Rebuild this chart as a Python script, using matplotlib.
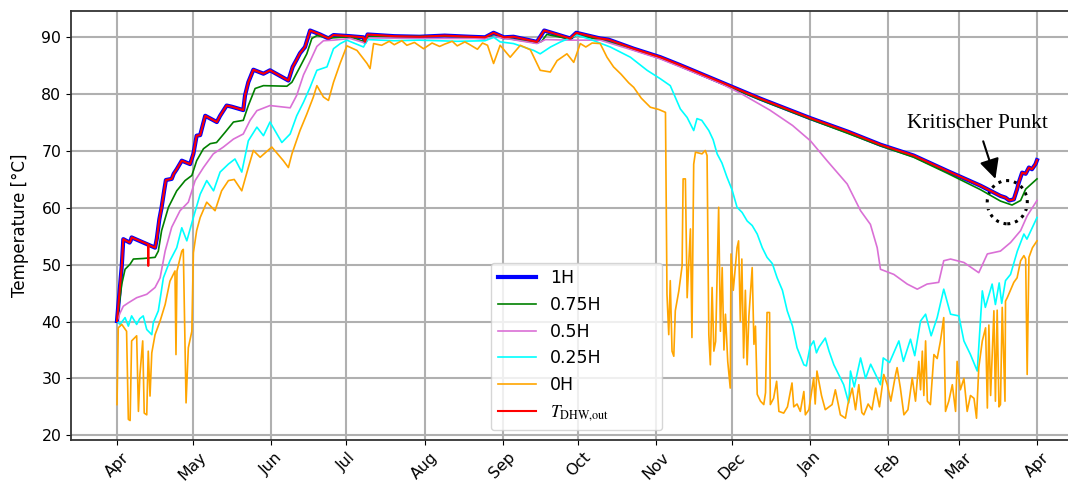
import pandas as pd
import matplotlib
matplotlib.use("Agg")
from matplotlib import pyplot as plt
from matplotlib import dates as mdates
from matplotlib.patches import Ellipse

START = pd.Timestamp("2021-04-01")

# days after START and temperatures in °C
days_1h = [0, 0.5, 1.9, 2.5, 5.0, 5.4, 5.8, 15.1, 15.8, 16.8, 17.7, 18.7, 19.4, 21.7, 22.5,
           23.7, 25.7, 29.0, 30.3, 31.6, 33.0, 35.0, 39.6, 40.9, 43.5, 45.5, 50.1, 50.8, 52.1,
           54.1, 58.1, 60.7, 68.0, 69.7, 71.3, 72.6, 74.6, 76.6, 80.6, 83.9, 85.9, 92.5, 97.8,
           98.4, 99.4, 110, 120, 130, 140, 146, 149.4, 153.5, 157.3, 166.6, 169.5, 179.8,
           182.2, 191.7, 195, 205, 215.6, 223.5, 255.3, 275, 290, 303, 316.1, 329.4, 342.6,
           350.5, 352.5, 354, 355.8, 357.1, 357.8, 359.1, 360.5, 361.8, 363, 364.4, 365]
temp_1h = [40.1, 42.7, 49.8, 54.5, 53.9, 54.2, 54.8, 53.0, 54.6, 58.0, 60.1, 63.0, 64.9, 65.1, 66.0,
           66.8, 68.3, 67.7, 69.5, 72.7, 72.8, 76.2, 75.1, 76.2, 78.0, 77.8, 77.2, 79.8, 82.1,
           84.3, 83.6, 84.2, 82.4, 84.8, 86.1, 87.2, 88.3, 91.2, 90.5, 89.8, 90.4, 90.2, 90.0,
           89.2, 90.5, 90.2, 90.1, 90.3, 90.1, 90.0, 90.8, 90.0, 90.1, 89.2, 91.2, 89.8,
           90.8, 89.8, 89.6, 88.0, 86.5, 85.1, 79.2, 75.8, 73.4, 71.1, 69.2, 66.5, 63.9,
           62.1, 61.8, 61.3, 61.5, 63.3, 64.5, 66.2, 66.0, 67.1, 66.8, 67.7, 68.4]

# outlet temperature follows 1H, except for a short drop in mid April
spike_days = [12.3, 12.4, 12.5]
spike_temp = [53.6, 49.8, 53.5]

days_075 = [0, 1.0, 1.9, 3.2, 5.2, 6.5, 10.5, 15.1, 16.4, 17.7, 20.4, 23.7, 27.0, 29.7, 31.6,
            34.3, 37.0, 39.5, 42.9, 46.2, 50.1, 52.1, 54.8, 58.1, 67.4, 69.4, 72.6, 75.3, 77.3,
            79.3, 85, 92.5, 98.4, 99.6, 110, 130, 146, 149.4, 153.5, 166.6, 168.5, 170.5,
            179.8, 182.2, 191.7, 205, 215.6, 223.5, 255.3, 275, 290, 303, 316.1, 329.4, 342.6,
            350.5, 355.1, 358.5, 360.5, 363, 365]
temp_075 = [40.1, 43.5, 46.6, 49.2, 50.1, 51.0, 51.1, 51.3, 52.4, 56.0, 60.1, 63.0, 64.8, 65.7, 68.3,
            70.4, 71.3, 71.5, 73.3, 75.1, 75.4, 78.0, 81.0, 81.5, 81.4, 82.1, 84.8, 87.1, 89.8,
            90.3, 89.9, 90.1, 89.2, 90.1, 90.1, 90.2, 89.9, 90.2, 89.9, 89.0, 89.3, 90.5,
            89.7, 90.4, 89.6, 87.9, 86.4, 84.9, 79.0, 75.6, 73.1, 70.9, 68.9, 66.1, 63.2,
            61.2, 60.5, 61.3, 63.3, 64.3, 65.1]

days_05 = [0, 1.2, 2.5, 4.5, 7.8, 11.8, 15.1, 17.1, 19.1, 21.7, 25, 28.3, 31, 34.3, 38.2, 42.2,
           46.2, 50.1, 52.8, 55.5, 60.7, 64.7, 68.7, 71.3, 74, 76.6, 79.3, 81.9, 85.9, 92.5,
           98.4, 100, 120, 146, 150, 166.6, 170, 180, 191.7, 205, 215.6, 223.5, 240, 248, 259,
           268, 275.1, 281.7, 289.7, 295, 298.9, 301.6, 302.9, 308.2, 313.5, 317.5, 321.4, 326,
           328, 330.7, 336, 341.9, 345.3, 350.5, 354.5, 358.5, 361.1, 365]
temp_05 = [40.1, 41.5, 42.7, 43.3, 44.2, 44.8, 46.0, 47.7, 52.4, 56.6, 59.5, 61.0, 64.8, 67.1, 69.5, 70.7,
           72.1, 73.0, 75.4, 77.1, 78.0, 77.8, 77.6, 79.8, 83.4, 85.8, 88.4, 89.4, 89.5, 89.8,
           89.0, 89.9, 89.8, 89.8, 90.1, 88.9, 89.6, 89.5, 89.5, 87.7, 86.2, 84.8, 81.8, 80.0, 77.2,
           74.5, 71.8, 68.3, 64.2, 59.5, 57.1, 53.0, 49.2, 48.3, 46.6, 45.7, 46.6, 46.9,
           50.7, 51.0, 50.4, 48.6, 51.9, 52.4, 53.9, 56.0, 58.6, 61.3]

days_025 = [0, 1.2, 3.2, 4.5, 5.8, 7.8, 9.0, 10.4, 11.8, 13.8, 14.4, 16.4, 18.4, 21.0, 23.7, 25.7,
            27.7, 30.3, 33.0, 35.6, 38.3, 40.9, 44.2, 46.8, 49.5, 52.1, 55.5, 58.1, 60.7, 65.4,
            68.7, 71.3, 74.0, 76.6, 79.3, 83.3, 85.9, 88.6, 91.2, 95, 97.8, 99.4, 110, 120, 135,
            146, 149.5, 152, 157.3, 165.3, 167.9, 172, 176, 182.5, 188, 195.7, 203.7, 210.3,
            215.6, 219.5, 223.5, 226.2, 228.8, 230.1, 232, 234.8, 236.5, 238.1, 240, 242, 244,
            246, 248, 250, 252, 254, 256, 257.9, 260, 261.9, 264, 265.9, 268, 269.8, 272.5,
            273.5, 275, 276.4, 277.5, 278.5, 281, 282.5, 284.4, 286.5, 288.3, 290.3,
            291, 292.5, 295, 297, 299, 302.9, 304, 306.5, 310.2, 312, 314.8, 316.5, 318.8,
            320.8, 323, 325.4, 328, 330.7, 334, 336, 338.6, 341.3, 343.3, 344.5, 347.2, 348.5,
            350, 351, 352.5, 354.5, 357.2, 359.8, 361, 363.2, 365]
temp_025 = [40.1, 39.5, 40.7, 39.2, 41.0, 39.5, 40.5, 41.0, 38.6, 37.7, 39.8, 41.9, 47.7, 50.7, 53.0, 56.5,
            54.2, 58.3, 62.4, 64.8, 63.0, 66.3, 67.7, 68.6, 66.3, 71.8, 74.2, 72.7, 75.1, 71.5,
            73.0, 76.2, 78.6, 81.2, 84.2, 84.8, 88.0, 88.9, 89.5, 88.8, 88.3, 89.6, 89.4, 89.5, 89.3,
            89.4, 90.0, 89.2, 88.9, 87.7, 87.1, 88.3, 89.2, 90.4, 89.6, 88.3, 86.5, 84.2,
            82.7, 81.5, 77.4, 75.9, 73.6, 75.7, 75.4, 73.6, 72.0, 69.5, 67.9, 65.4, 63.2,
            60.1, 59.2, 57.7, 56.9, 55.4, 53.0, 51.3, 50.2, 47.7, 45.5, 41.9, 39.2, 35.4, 32.4,
            32.2, 35.6, 36.6, 34.5, 35.5, 37.1, 34.8, 32.4, 30.5, 28.9, 25.7,
            31.3, 28.5, 33.6, 30.0, 32.5, 28.9, 33.6, 32.8, 36.6, 33.0, 36.9, 34.0, 40.1,
            41.3, 37.5, 40.7, 45.7, 41.3, 41.0, 36.6, 34.2, 31.3, 45.4, 42.5, 46.6, 43.0,
            46.8, 43.2, 47.2, 48.3, 52.4, 55.4, 54.5, 56.6, 58.3]

days_0 = [0, 0.5, 1.9, 3.8, 4.5, 5.2, 5.8, 7.8, 8.5, 9.1, 10.2, 10.8, 11.8, 12.4, 13.1, 13.8,
          15.1, 17.1, 19.1, 21.0, 23.0, 23.4, 23.8, 25.7, 26.3, 27.4, 28.3, 29.7, 30.3, 31.6,
          33.0, 35.6, 38.9, 41.5, 44.2, 46.5, 49.5, 52.1, 54.1, 56.8, 61.4, 66.0, 68.0, 69.4,
          72.6, 75.3, 77.9, 79.3, 81.9, 83.9, 85.9, 88.5, 91.2, 95.2, 99.2, 100.4, 101.8, 105,
          108, 110, 113, 115, 118, 121.6, 125, 128, 130, 133, 135, 138, 140, 143, 145, 147,
          149.4, 152, 156, 160, 164, 167.9, 171.9, 174.6, 178.5, 181.2, 183.8, 186, 188.5,
          191.7, 194.4, 197, 200, 203, 205, 208, 211.6, 215, 217.6,
          218.2, 218.9, 219.5, 220.2, 220.9, 221.5, 222.9, 224.2, 224.6, 225.5, 226.2, 227.5,
          228.1, 228.8, 229.5, 232.1, 233.4, 234.1, 234.8, 235.4, 236.1, 236.8, 237.5, 238.7,
          239.4, 240.1, 240.8, 241.4, 242.3, 243.3, 243.6, 244.5, 246.0, 246.6, 247.3, 247.9,
          248.6, 249.3, 250.0, 250.7, 252.0, 252.7, 253.3, 254.0, 255.3, 256.6, 257.3, 257.9,
          258.9, 259.2, 260.5, 261.7, 262.6, 264.5, 266.0, 267.8, 268.5, 269.8, 271.1, 272.5,
          273.1, 274.5, 275.8, 276.4, 277.0, 277.7, 279.5, 281, 283.7, 285, 287, 289, 290,
          291.7, 293, 294.3, 295.5, 296.3, 298, 299.5, 301, 302.5, 304.2, 305.6, 307, 308.9,
          309.5, 310.8, 312.2, 313.8, 315.5, 316.8, 318.1, 318.8, 319.5, 320.1, 320.8, 321.5,
          322.7, 324.1, 325.4, 326.7, 328, 328.7, 330, 331.4, 332.7, 333.3, 334.6, 336, 337.3,
          338.6, 340, 341, 341.9, 343.3, 344.6, 345.3, 345.9, 346.6, 347.9, 348.5, 349.2,
          349.9, 350.5, 351.2, 352.3, 352.5, 353.2, 355.8, 357.1, 358.5, 359.8, 360.5, 361.1,
          361.8, 363.2, 365]
temp_0 = [25.4, 38.9, 39.5, 38.3, 22.8, 22.6, 36.6, 37.5, 24.2, 30.7, 36.6, 23.9, 23.6, 34.8, 26.9, 34.5,
          37.7, 40.1, 43.0, 47.1, 48.9, 34.2, 48.9, 52.4, 52.7, 25.7, 35.4, 38.3, 52.1, 56.0,
          58.3, 61.0, 59.5, 63.0, 64.8, 65.0, 63.0, 67.1, 70.1, 68.9, 70.7, 68.3, 67.1, 69.5,
          73.6, 76.5, 79.5, 81.5, 79.5, 78.9, 82.1, 85.4, 88.5, 87.7, 85.4, 84.5, 88.9, 88.6,
          89.3, 88.7, 89.4, 88.6, 89.1, 88.0, 89.0, 88.4, 88.8, 89.3, 88.5, 89.2, 88.7, 87.9, 89.0, 88.6,
          85.4, 88.6, 86.5, 88.6, 87.8, 84.2, 83.9, 85.9, 87.1, 85.6, 88.9, 88.3, 89.0,
          88.9, 86.5, 84.8, 83.5, 82.0, 81.2, 79.3, 77.7, 77.3, 76.8,
          44.8, 37.7, 47.2, 34.8, 33.9, 41.9, 45.4, 49.8, 65.1, 65.1, 44.2, 56.3,
          37.2, 67.7, 69.8, 69.5, 70.1, 69.2, 37.7, 32.4, 46.0, 34.8, 36.5, 60.1,
          38.3, 49.5, 35.0, 41.3, 33.0, 28.3, 51.9, 45.5, 53.0, 54.2, 40.0, 51.0,
          33.6, 45.5, 32.4, 41.0, 49.5, 36.0, 39.2, 27.2, 26.0, 25.4, 27.5, 41.6,
          41.6, 25.4, 26.5, 29.5, 24.2, 23.9, 25.0, 29.2, 25.0, 25.5, 24.2, 27.7,
          23.6, 24.5, 28.3, 30.1, 25.5, 31.3, 27.0, 24.5, 25.4, 28.0, 23.6, 23.0, 25.5,
          28.3, 24.5, 28.9, 24.0, 23.6, 25.5, 24.5, 28.3, 25.0, 30.7, 28.9, 26.0, 30.7,
          31.9, 28.3, 23.6, 24.5, 30.1, 26.0, 33.0, 28.0, 34.8, 27.0, 36.6, 26.0,
          25.4, 34.2, 33.5, 36.6, 40.7, 24.2, 26.0, 28.9, 24.2, 33.0, 28.0, 30.0, 24.2,
          27.0, 26.5, 23.0, 31.9, 36.6, 38.9, 24.8, 39.4, 27.0, 41.9, 26.0, 42.0,
          25.0, 25.4, 42.5, 26.0, 43.6, 44.2, 46.9, 47.7, 50.7, 51.6, 51.0, 30.7,
          51.3, 53.0, 54.2]

# the "Kritischer Punkt" marker, in days / °C
crit_day = 353.2
crit_temp = 61.0
crit_label_day = 341.4
crit_label_temp = 74.8
crit_arrow_day = 348.5
crit_arrow_temp = 65.1


def to_dates(days):
    return START + pd.to_timedelta(days, unit="D")


def merge_spike(days, temps, sdays, stemps):
    pairs = sorted(list(zip(days, temps)) + list(zip(sdays, stemps)))
    return [p[0] for p in pairs], [p[1] for p in pairs]


def main():
    plt.rcParams["font.family"] = "DejaVu Sans"
    plt.rcParams["mathtext.fontset"] = "stix"

    fig = plt.figure(figsize=(10.68, 4.90), dpi=100)
    ax = fig.add_axes([71 / 1068, 50 / 490, 1012 / 1068, 429 / 490])

    days_out, temp_out = merge_spike(days_1h, temp_1h, spike_days, spike_temp)

    ax.plot(to_dates(days_1h), temp_1h, color="blue", lw=3, label="1H")
    ax.plot(to_dates(days_075), temp_075, color="green", lw=1.2, label="0.75H")
    ax.plot(to_dates(days_05), temp_05, color="orchid", lw=1.2, label="0.5H")
    ax.plot(to_dates(days_025), temp_025, color="cyan", lw=1.2, label="0.25H")
    ax.plot(to_dates(days_0), temp_0, color="orange", lw=1.2, label="0H")
    ax.plot(to_dates(days_out), temp_out, color="red", lw=1.5,
            label=r"$T_{\mathrm{DHW{,}out}}$")

    # dotted circle round the critical point
    centre = mdates.date2num(to_dates([crit_day])[0])
    ax.add_patch(Ellipse((centre, crit_temp), width=15.9, height=7.6, fill=False,
                         linestyle=(0, (1, 1.6)), lw=2.2, color="black"))
    ax.annotate("Kritischer Punkt",
                xy=(to_dates([crit_arrow_day])[0], crit_arrow_temp),
                xytext=(to_dates([crit_label_day])[0], crit_label_temp),
                ha="center", va="center", fontsize=15.4, family="Liberation Serif",
                arrowprops=dict(arrowstyle="-|>", color="black", lw=1.5,
                                mutation_scale=30, shrinkA=4, shrinkB=0))

    ax.xaxis.set_major_locator(mdates.MonthLocator())
    ax.xaxis.set_major_formatter(mdates.DateFormatter("%b"))
    plt.setp(ax.get_xticklabels(), rotation=45)
    ax.tick_params(labelsize=11.3)
    ax.set_ylabel("Temperature [°C]", fontsize=12, labelpad=9)
    ax.grid(True, color="#b0b0b0", lw=1.5)
    for s in ax.spines.values():
        s.set_color("#333333")
        s.set_linewidth(1.3)

    ax.legend(loc="lower left", bbox_to_anchor=(0.415, 0.0233, 0.169, 0.1),
              mode="expand", borderaxespad=0, fontsize=12.5, handlelength=2.2)

    fig.savefig("out.png", dpi=100)


if __name__ == "__main__":
    main()
